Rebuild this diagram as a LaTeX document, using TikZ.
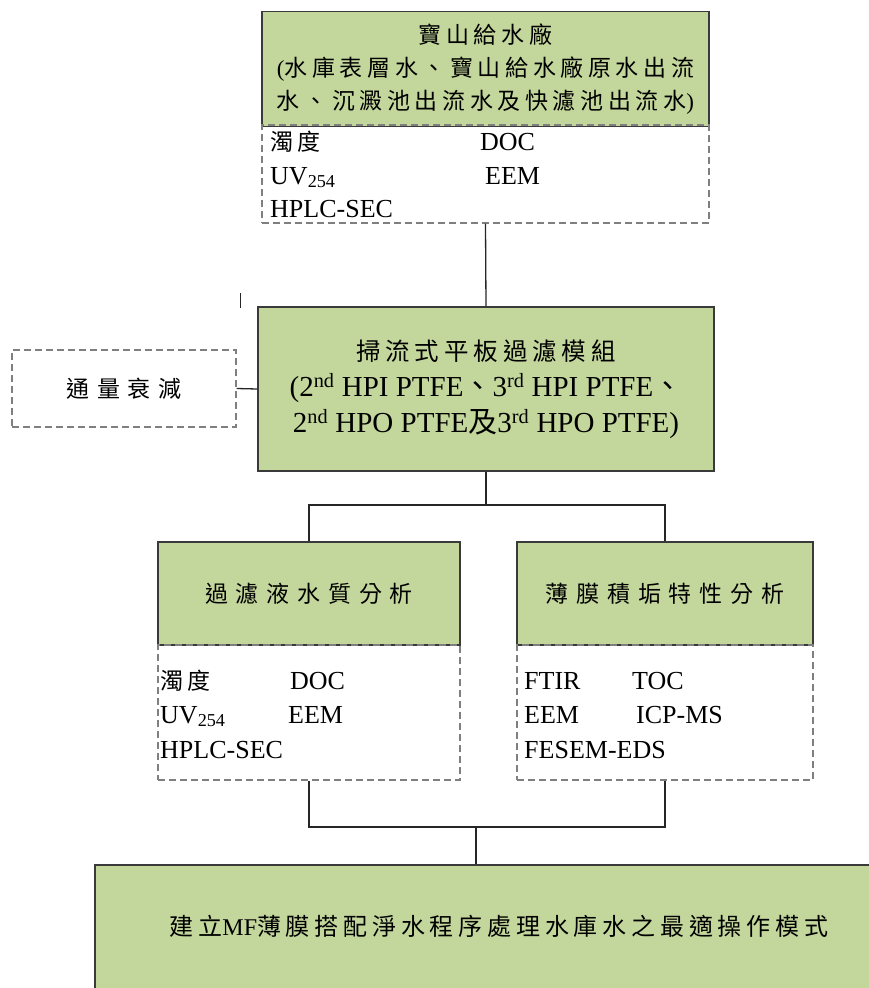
\documentclass[tikz,border=0pt]{standalone}
\usepackage{fontspec}
\setmainfont{Liberation Serif}
\newfontfamily\cjk[LetterSpace=20]{Noto Sans CJK TC}
\newfontfamily\cjkwide[LetterSpace=34]{Noto Sans CJK TC}
\newcommand\zhtxt[1]{{\cjk #1}}
\newcommand\zhwide[1]{{\cjkwide #1}}
\definecolor{boxgreen}{HTML}{C3D69B}
\definecolor{edgecol}{HTML}{3A3A3A}
\definecolor{dashgray}{HTML}{7F7F7F}
\tikzset{
  greenbox/.style={draw=edgecol, fill=boxgreen, line width=1.3pt, inner sep=0pt, align=center},
  dashbox/.style={draw=dashgray, dash pattern=on 7pt off 4pt, line width=1.3pt, inner sep=0pt},
  conn/.style={draw=black!85, line width=1.3pt},
  txt/.style={inner sep=0pt, anchor=base west, font=\fontsize{26}{30}\selectfont},
  zhsmall/.style={font=\fontsize{23}{30}\selectfont}
}
\begin{document}
\begin{tikzpicture}[x=1pt,y=-1pt]
\useasboundingbox (0,0) rectangle (868,988);
% top
\node[greenbox, minimum width=447pt, minimum height=115pt, font=\fontsize{23}{33}\selectfont] (src) at (485.5,69)
  {\zhtxt{寶山給水廠}\\(\zhtxt{水庫表層水、寶山給水廠原水出流}\\\zhtxt{水、沉澱池出流水及快濾池出流水})};
\node[dashbox, minimum width=447pt, minimum height=98pt] (srcm) at (485.5,174) {};
\node[txt] (s1) at (270,150) {\fontsize{23}{30}\selectfont\zhtxt{濁度}};
\node[txt] (s2) at (480,150) {DOC};
\node[txt] (s3) at (270,184) {UV\textsubscript{254}};
\node[txt] (s4) at (485,184) {EEM};
\node[txt] (s5) at (270,217) {HPLC-SEC};
% middle
\node[greenbox, minimum width=456pt, minimum height=164pt, font=\fontsize{29}{36}\selectfont] (mod) at (486,389)
  {{\fontsize{24.5}{36}\selectfont\zhtxt{掃流式平板過濾模組}}\\(2\textsuperscript{nd} HPI PTFE\zhtxt{、}3\textsuperscript{rd} HPI PTFE\zhtxt{、}\\2\textsuperscript{nd} HPO PTFE\zhtxt{及}3\textsuperscript{rd} HPO PTFE)};
\node[dashbox, minimum width=224pt, minimum height=77pt, zhsmall] (flux) at (124,388.5) {\zhwide{通量衰減}};
\draw[conn] (flux.east) -- (mod.west);
\coordinate (tickA) at (240,293);
\coordinate (tickB) at (240,308);
\draw[conn, line width=1pt] (tickA) -- (tickB);
% second level
\node[greenbox, minimum width=302pt, minimum height=103pt, zhsmall] (filt) at (309,593.5) {\zhwide{過濾液水質分析}};
\node[dashbox, minimum width=302pt, minimum height=135pt] (filtm) at (309,712.5) {};
\node[greenbox, minimum width=296pt, minimum height=103pt, zhsmall] (foul) at (665,593.5) {\zhwide{薄膜積垢特性分析}};
\node[dashbox, minimum width=296pt, minimum height=135pt] (foulm) at (665,712.5) {};
\node[txt] (f1) at (160,689) {\fontsize{23}{30}\selectfont\zhtxt{濁度}};
\node[txt] (f2) at (290,689) {DOC};
\node[txt] (f3) at (160,723) {UV\textsubscript{254}};
\node[txt] (f4) at (288,723) {EEM};
\node[txt] (f5) at (160,758) {HPLC-SEC};
\node[txt] (g1) at (524,689) {FTIR};
\node[txt] (g2) at (632,689) {TOC};
\node[txt] (g3) at (524,723) {EEM};
\node[txt] (g4) at (636,723) {ICP-MS};
\node[txt] (g5) at (524,758) {FESEM-EDS};
% bottom
\node[greenbox, minimum width=785pt, minimum height=140pt] (res) at (487.5,935) {};
\node[inner sep=0pt, font=\fontsize{24}{30}\selectfont] (rest) at (499,926) {\zhtxt{建立}MF\zhtxt{薄膜搭配淨水程序處理水庫水之最適操作模式}};
% connectors
\draw[conn] (srcm.south) -- (mod.north);
\coordinate (split) at (486,505);
\draw[conn] (mod.south) -- (split);
\draw[conn] (split) -| (filt.north);
\draw[conn] (split) -| (foul.north);
\coordinate (join) at (476,827);
\draw[conn] (filtm.south) |- (join) -| (foulm.south);
\draw[conn] (join) -- (join |- res.north);
\end{tikzpicture}
\end{document}
